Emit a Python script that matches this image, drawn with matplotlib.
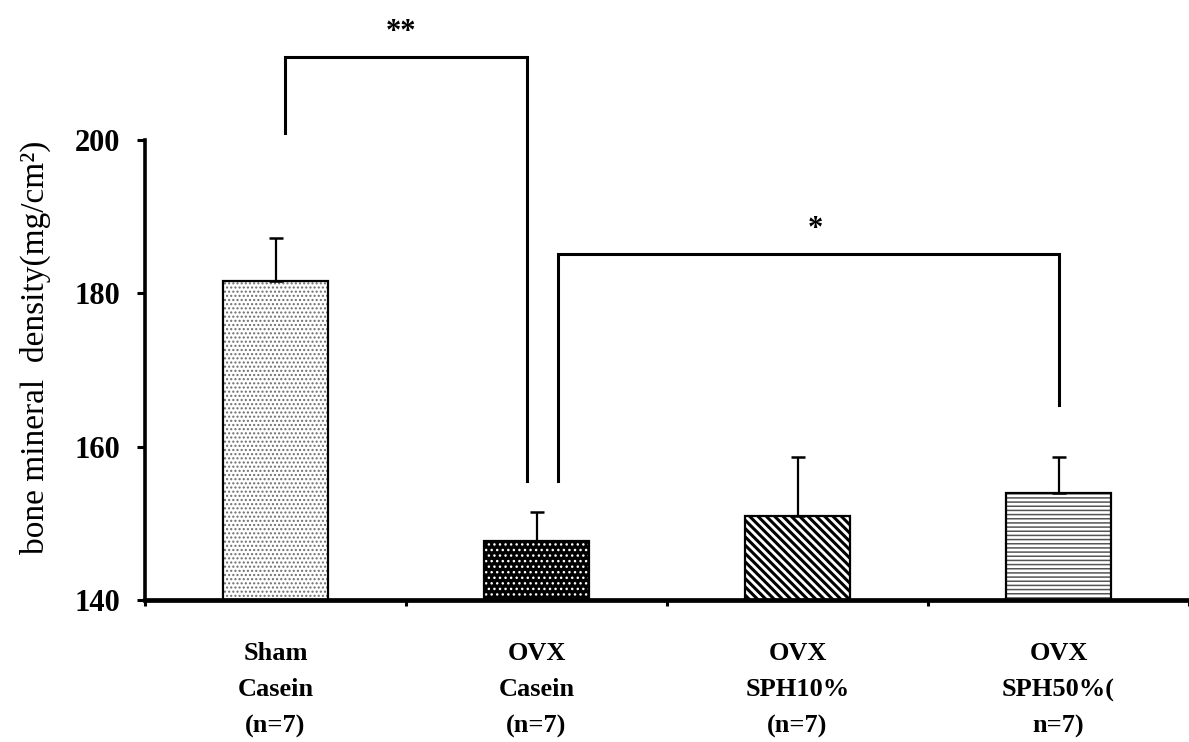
import numpy as np
import matplotlib
matplotlib.use('Agg')
import matplotlib.pyplot as plt

# Bone mineral density per group (mean, upper SD)
groups = ['Sham\nCasein\n(n=7)', 'OVX\nCasein\n(n=7)',
          'OVX\nSPH10%\n(n=7)', 'OVX\nSPH50%(\nn=7)']
bmd_mean = [181.6, 147.7, 151.0, 154.0]
bmd_sd = [5.6, 3.8, 7.7, 4.6]

# bar fill styles: (face colour, hatch, hatch colour, hatch linewidth)
BAR_STYLES = [
    ('white', '....', '#6e6e6e', 1.0),
    ('black', '...', 'white', 1.0),
    ('white', '\\\\\\\\', 'black', 2.2),
    ('white', '----', '#555555', 1.1),
]

# significance brackets: (x left, x right, y top, y left end, y right end, label, label x, label y)
brackets = [
    (0.036, 0.964, 210.8, 200.9, 155.5, '**', 0.48, 212.1),
    (1.082, 3.0, 185.1, 155.5, 165.4, '*', 2.07, 186.4),
]

plt.rcParams['font.family'] = ['Liberation Serif', 'DejaVu Serif']

fig = plt.figure(figsize=(11.89, 7.42), dpi=100)
ax = fig.add_axes([0.122, 0.1914, 0.878, 0.62])

x = np.arange(len(groups))
width = 0.405

for xi, h, (fc, hatch, hc, hlw) in zip(x, bmd_mean, BAR_STYLES):
    fill = ax.bar(xi, h - 140, width, bottom=140, color=fc,
                  edgecolor=hc, linewidth=0, hatch=hatch, zorder=2)
    for p in fill:
        if hasattr(p, 'set_hatch_linewidth'):
            p.set_hatch_linewidth(hlw)
    ax.bar(xi, h - 140, width, bottom=140, fill=False,
           edgecolor='black', linewidth=1.6, zorder=3)

ax.errorbar(x, bmd_mean, yerr=[np.zeros(len(x)), bmd_sd], fmt='none',
            ecolor='black', elinewidth=1.6, capsize=5, capthick=1.8,
            zorder=4)

for xl, xr, yt, yl, yr, lab, lx, ly in brackets:
    ax.plot([xl, xl, xr, xr], [yl, yt, yt, yr], color='black',
            linewidth=2.2, clip_on=False, solid_joinstyle='miter', zorder=5)
    ax.text(lx, ly, lab, ha='center', va='bottom', fontsize=22,
            fontweight='bold', clip_on=False)

ax.set_xlim(-0.5, 3.5)
ax.set_ylim(140, 200)
ax.set_yticks([140, 160, 180, 200])
ax.tick_params(axis='y', direction='out', length=6, width=2.2,
               labelsize=22, pad=12)
for t in ax.get_yticklabels():
    t.set_fontweight('bold')

ax.set_xticks(np.arange(-0.5, 4.0, 1.0))
ax.set_xticklabels([])
ax.tick_params(axis='x', which='major', direction='out', length=4.5,
               width=2.2)
ax.set_xticks(x, minor=True)
ax.set_xticklabels(groups, minor=True, fontsize=19, fontweight='bold',
                   linespacing=1.75)
ax.tick_params(axis='x', which='minor', length=0, pad=30)

ax.set_ylabel('bone mineral  density(mg/cm²)', fontsize=24)
ax.yaxis.set_label_coords(-0.09, 0.55)

for side in ['top', 'right']:
    ax.spines[side].set_visible(False)
ax.spines['left'].set_linewidth(2.6)
ax.spines['bottom'].set_linewidth(3.4)

plt.savefig('out.png', dpi=100)
plt.close()
